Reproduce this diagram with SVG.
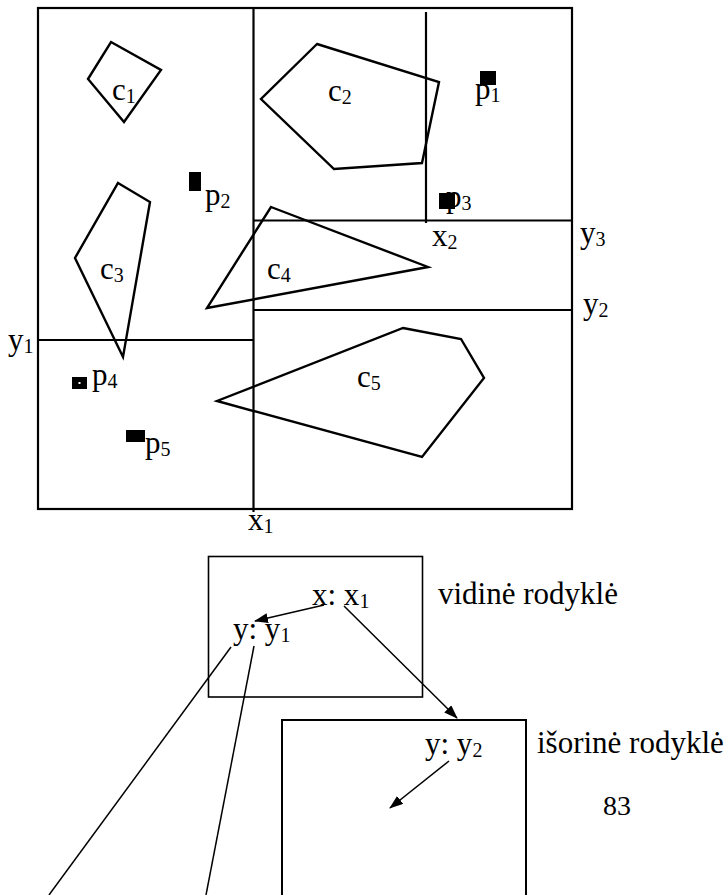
<svg xmlns="http://www.w3.org/2000/svg" width="728" height="895" viewBox="0 0 728 895" font-family="'Liberation Serif', 'Times New Roman', serif">
<style>
.frame{fill:none;stroke:#000;stroke-width:2.2}
.split{fill:none;stroke:#000;stroke-width:2.2}
.poly{fill:none;stroke:#000;stroke-width:2.4;stroke-linejoin:miter}
.pt{fill:#000}
.box{fill:none;stroke:#000;stroke-width:1.6}
.box2{fill:none;stroke:#000;stroke-width:2}
.conn{fill:none;stroke:#000;stroke-width:1.5}
text{font-family:"Liberation Serif","Times New Roman",serif;font-size:31px;fill:#000}
.sub{font-size:20px}
</style>
<defs>
<marker id="ah" markerUnits="userSpaceOnUse" markerWidth="14" markerHeight="10" refX="13" refY="5" orient="auto">
<path d="M0,0 L14,5 L0,10 Z" fill="#000"/>
</marker>
</defs>
<rect width="728" height="895" fill="#fff"/>
<g id="space">
<rect class="frame" x="38" y="8" width="534" height="501"/>
<line class="split" x1="253.5" y1="8" x2="253.5" y2="512"/>
<line class="split" x1="38" y1="340" x2="253.5" y2="340"/>
<line class="split" x1="253.5" y1="220.5" x2="572" y2="220.5"/>
<line class="split" x1="253.5" y1="310" x2="572" y2="310"/>
<line class="split" x1="426" y1="12" x2="426" y2="223"/>
</g>
<g id="c1"><polygon class="poly" points="111,42 161,70 124,122 88,79"/><text x="112" y="100">c<tspan class="sub" dy="3">1</tspan></text></g>
<g id="c2"><polygon class="poly" points="317,44 439,82 422,163 334,169 261,99"/><text x="328" y="101">c<tspan class="sub" dy="3">2</tspan></text></g>
<g id="c3"><polygon class="poly" points="118,183 150,202 123,357 75,258"/><text x="100" y="279">c<tspan class="sub" dy="3">3</tspan></text></g>
<g id="c4"><polygon class="poly" points="271,207 428,267 207,308"/><text x="267" y="279">c<tspan class="sub" dy="3">4</tspan></text></g>
<g id="c5"><polygon class="poly" points="403,328 461,339 484,378 422,457 217,401"/><text x="357" y="387">c<tspan class="sub" dy="3">5</tspan></text></g>
<g id="p1"><text x="475" y="99">p<tspan class="sub" dy="3">1</tspan></text><rect class="pt" x="480" y="71" width="16" height="14"/></g>
<g id="p2"><rect class="pt" x="189" y="172" width="12" height="19"/><text x="205" y="205">p<tspan class="sub" dy="3">2</tspan></text></g>
<g id="p3"><text x="446" y="207">p<tspan class="sub" dy="3">3</tspan></text><rect class="pt" x="439" y="193" width="16" height="16"/></g>
<g id="p4"><rect class="pt" x="72" y="377" width="15" height="12"/><rect x="78.5" y="382" width="2" height="2" fill="#fff"/><text x="92" y="385">p<tspan class="sub" dy="3">4</tspan></text></g>
<g id="p5"><rect class="pt" x="126" y="430" width="19" height="12"/><text x="145" y="453">p<tspan class="sub" dy="3">5</tspan></text></g>
<g id="labels">
<text x="432" y="246">x<tspan class="sub" dy="3">2</tspan></text>
<text x="580" y="243">y<tspan class="sub" dy="3">3</tspan></text>
<text x="583" y="314">y<tspan class="sub" dy="3">2</tspan></text>
<text x="8" y="350">y<tspan class="sub" dy="3">1</tspan></text>
<text x="248" y="530">x<tspan class="sub" dy="3">1</tspan></text>
</g>
<g id="inner">
<rect class="box" x="208.5" y="556.5" width="214" height="140.5"/>
<text x="312" y="605">x: x<tspan class="sub" dy="3">1</tspan></text>
<text x="233" y="639">y: y<tspan class="sub" dy="3">1</tspan></text>
<text x="438" y="604">vidinė rodyklė</text>
</g>
<g id="outer">
<path class="box2" d="M282,895 V720 H526 V895"/>
<text x="425" y="754">y: y<tspan class="sub" dy="3">2</tspan></text>
<text x="537" y="753">išorinė rodyklė</text>
</g>
<text x="603" y="815" style="font-size:28px">83</text>
<g id="connectors">
<line class="conn" x1="324" y1="605" x2="255" y2="621" marker-end="url(#ah)"/>
<line class="conn" x1="344" y1="606" x2="457" y2="718" marker-end="url(#ah)"/>
<line class="conn" x1="449" y1="761" x2="390" y2="808" marker-end="url(#ah)"/>
<line class="conn" x1="231" y1="647" x2="49" y2="895"/>
<line class="conn" x1="254" y1="646" x2="206" y2="895"/>
</g>
</svg>
